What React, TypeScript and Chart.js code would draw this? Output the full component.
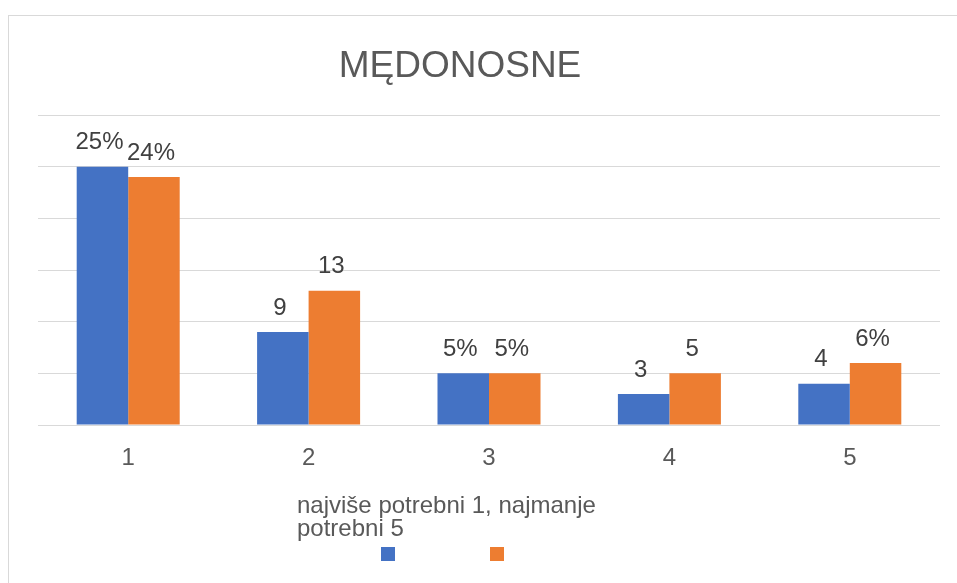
import React, { useEffect, useRef } from "react";
import { Chart, registerables } from "chart.js";

Chart.register(...registerables);

const categories = ["1", "2", "3", "4", "5"];
const seriesNames = ["Serija 1", "Serija 2"];
const seriesA = [25, 9, 5, 3, 4];
const seriesB = [24, 13, 5, 5, 6];
const labelsA = ["25%", "9", "5%", "3", "4"];
const labelsB = ["24%", "13", "5%", "5", "6%"];
const yTicks = [0, 5, 10, 15, 20, 25, 30];
const titleText = "MĘDONOSNE";
const axisTitleLines = ["najviše potrebni 1, najmanje", "potrebni 5"];

const FONT = '"Liberation Sans", Arial, sans-serif';
const BLUE = "#4472C4";
const ORANGE = "#ED7D31";

const textPlugin = {
  id: "textPlugin",
  afterDatasetsDraw(chart: any) {
    const ctx = chart.ctx;
    ctx.save();
    ctx.font = `24px ${FONT}`;
    ctx.fillStyle = "#404040";
    ctx.textAlign = "center";
    ctx.textBaseline = "middle";
    const sets = [labelsA, labelsB];
    chart.data.datasets.forEach((_: any, di: number) => {
      const meta = chart.getDatasetMeta(di);
      meta.data.forEach((bar: any, i: number) => {
        ctx.fillText(sets[di][i], bar.x - 3, bar.y - 24);
      });
    });
    ctx.restore();
  },
  afterDraw(chart: any) {
    const ctx = chart.ctx;
    const area = chart.chartArea;
    ctx.save();
    // title
    ctx.font = `37px ${FONT}`;
    ctx.fillStyle = "#595959";
    ctx.textAlign = "center";
    ctx.textBaseline = "alphabetic";
    ctx.fillText(titleText, area.left + 422, area.top - 38);
    // axis title
    ctx.font = `24px ${FONT}`;
    ctx.textAlign = "left";
    axisTitleLines.forEach((line, i) => {
      ctx.fillText(line, area.left + 259, area.bottom + 88 + i * 23);
    });
    // legend
    const colors = [BLUE, ORANGE];
    const xs = [area.left + 343, area.left + 452];
    colors.forEach((c, i) => {
      ctx.fillStyle = c;
      ctx.fillRect(xs[i], area.bottom + 122, 14, 14);
      ctx.fillStyle = "#595959";
      ctx.font = `24px ${FONT}`;
      ctx.fillText(seriesNames[i], xs[i] + 20, area.bottom + 185);
    });
    ctx.restore();
  },
};

export default function App() {
  const ref = useRef<HTMLCanvasElement>(null);
  useEffect(() => {
    if (!ref.current) return;
    const chart = new Chart(ref.current, {
      type: "bar",
      data: {
        labels: categories,
        datasets: [
          { label: seriesNames[0], data: seriesA, backgroundColor: BLUE },
          { label: seriesNames[1], data: seriesB, backgroundColor: ORANGE },
        ],
      },
      options: {
        responsive: false,
        animation: false,
        devicePixelRatio: 1,
        layout: { padding: { left: 29, right: 17, top: 99, bottom: 0 } },
        plugins: {
          legend: { display: false },
          title: { display: false },
          tooltip: { enabled: false },
        },
        datasets: {
          bar: { barPercentage: 1, categoryPercentage: 0.571 },
        },
        scales: {
          x: {
            grid: { display: false },
            border: { display: false },
            ticks: {
              color: "#595959",
              font: { family: FONT, size: 24 },
              padding: 11,
            },
            afterFit: (scale: any) => {
              scale.height = 211;
            },
          },
          y: {
            min: yTicks[0],
            max: yTicks[yTicks.length - 1],
            ticks: { display: false, stepSize: yTicks[1] - yTicks[0] },
            grid: { color: "#d9d9d9", drawTicks: false, lineWidth: 1 },
            border: { display: false },
            afterFit: (scale: any) => {
              scale.width = 0;
            },
          },
        },
      },
      plugins: [textPlugin],
    });
    return () => chart.destroy();
  }, []);

  return (
    <div
      style={{
        position: "fixed",
        left: 0,
        top: 0,
        width: 957,
        height: 583,
        overflow: "hidden",
        background: "#fff",
      }}
    >
      <div
        style={{
          position: "absolute",
          left: 8,
          top: 15,
          width: 1100,
          height: 700,
          border: "1px solid #d9d9d9",
          boxSizing: "border-box",
        }}
      >
        <canvas
          ref={ref}
          width={948}
          height={620}
          style={{ position: "absolute", left: 0, top: 0, width: 948, height: 620 }}
        />
      </div>
    </div>
  );
}
